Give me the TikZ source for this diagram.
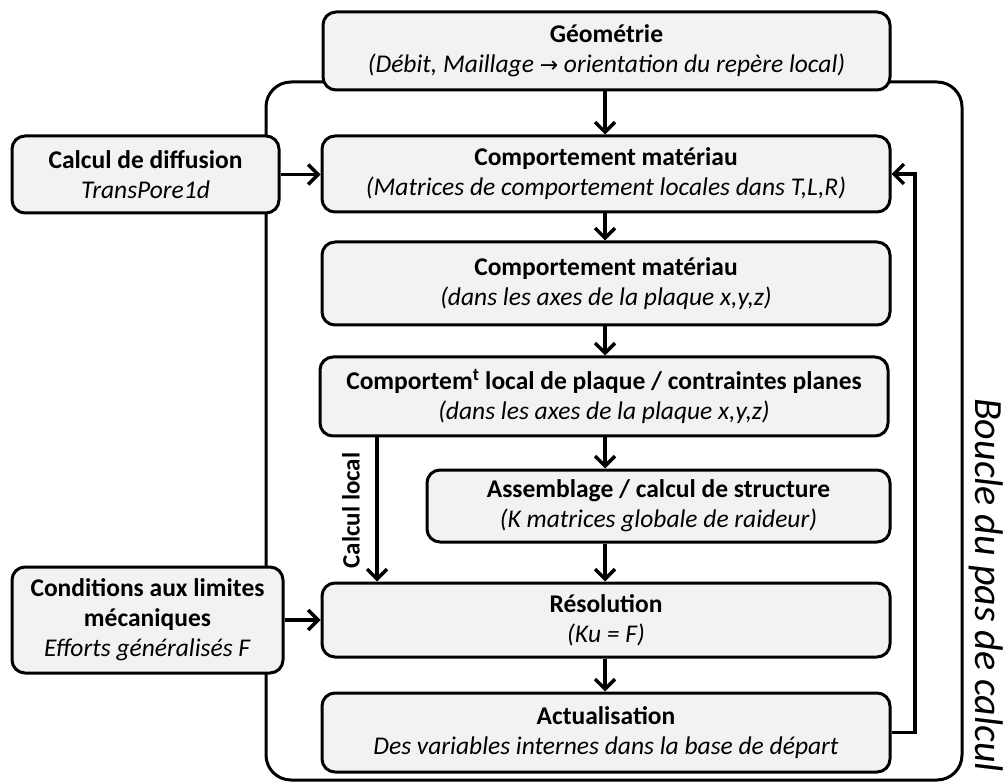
\documentclass[tikz,border=0pt]{standalone}
\usepackage{fontspec}
\setmainfont{Carlito}
\newfontfamily\dejavu{DejaVu Sans}
\usetikzlibrary{arrows.meta}
\definecolor{boxgray}{HTML}{F2F2F2}
\begin{document}
\begin{tikzpicture}[x=1pt,y=-1pt,
  box/.style={draw, line width=3pt, rounded corners=13pt, fill=boxgray, align=center, inner sep=0pt, font=\fontsize{25.5}{30}\selectfont},
  arr/.style={line width=3.4pt, -{Straight Barb[length=10pt,width=20pt]}},
  frame/.style={line width=3pt, rounded corners=25pt}]
\useasboundingbox (0,0) rectangle (1007,783);
% outer loop frame
\draw[frame] (266,82) rectangle (962,780);
% nodes
\node[box, minimum width=567pt, minimum height=78pt] (geo) at (606.5,51)
  {\textbf{Géométrie}\\\textit{(Débit, Maillage {\dejavu\fontsize{22}{24}\selectfont →} orientation du repère local)}};
\node[box, minimum width=267pt, minimum height=77pt] (diff) at (145.5,174.5)
  {\textbf{Calcul de diffusion}\\\textit{TransPore1d}};
\node[box, minimum width=568pt, minimum height=76pt] (cm1) at (606,174)
  {\textbf{Comportement matériau}\\\textit{(Matrices de comportement locales dans T,L,R)}};
\node[box, minimum width=568pt, minimum height=83pt] (cm2) at (606,283.5)
  {\textbf{Comportement matériau}\\\textit{(dans les axes de la plaque x,y,z)}};
\node[box, minimum width=568pt, minimum height=79pt] (cl) at (604,396.5)
  {\textbf{Comportem\textsuperscript{t} local de plaque / contraintes planes}\\\textit{(dans les axes de la plaque x,y,z)}};
\node[box, minimum width=463pt, minimum height=72pt] (asm) at (658.5,506)
  {\textbf{Assemblage / calcul de structure}\\\textit{(K matrices globale de raideur)}};
\node[box, minimum width=568pt, minimum height=74pt] (res) at (606,620)
  {\textbf{Résolution}\\\textit{(Ku = F)}};
\node[box, minimum width=568pt, minimum height=79pt] (act) at (606,732.5)
  {\textbf{Actualisation}\\\textit{Des variables internes dans la base de départ}};
\node[box, minimum width=271pt, minimum height=106pt] (cond) at (147.5,620)
  {\textbf{Conditions aux limites}\\\textbf{mécaniques}\\\textit{Efforts généralisés F}};
% labels
\node[rotate=90, inner sep=0pt, font=\bfseries\fontsize{25}{29}\selectfont] (cll) at (351,510.5) {Calcul local};
\node[rotate=-90, anchor=base west, inner sep=0pt, font=\itshape\fontsize{40}{48}\selectfont] (loop) at (975,398) {Boucle du pas de calcul};
% coordinates
\coordinate (fb) at (915,0);
\coordinate (lc) at (377,0);
\coordinate (mx) at (605,0);
% connectors
\draw[arr] (geo.south -| mx) -- (cm1.north -| mx);
\draw[arr] (diff.east) -- (cm1.west |- diff.east);
\draw[arr] (cm1.south -| mx) -- (cm2.north -| mx);
\draw[arr] (cm2.south -| mx) -- (cl.north -| mx);
\draw[arr] (cl.south -| mx) -- (asm.north -| mx);
\draw[arr] (asm.south -| mx) -- (res.north -| mx);
\draw[arr] (res.south -| mx) -- (act.north -| mx);
\draw[arr] (lc |- cl.south) -- (lc |- res.north);
\draw[arr] (cond.east) -- (res.west |- cond.east);
\draw[arr] (act.east) -- (act.east -| fb) -- (fb |- cm1.east) -- (cm1.east);
\end{tikzpicture}
\end{document}
